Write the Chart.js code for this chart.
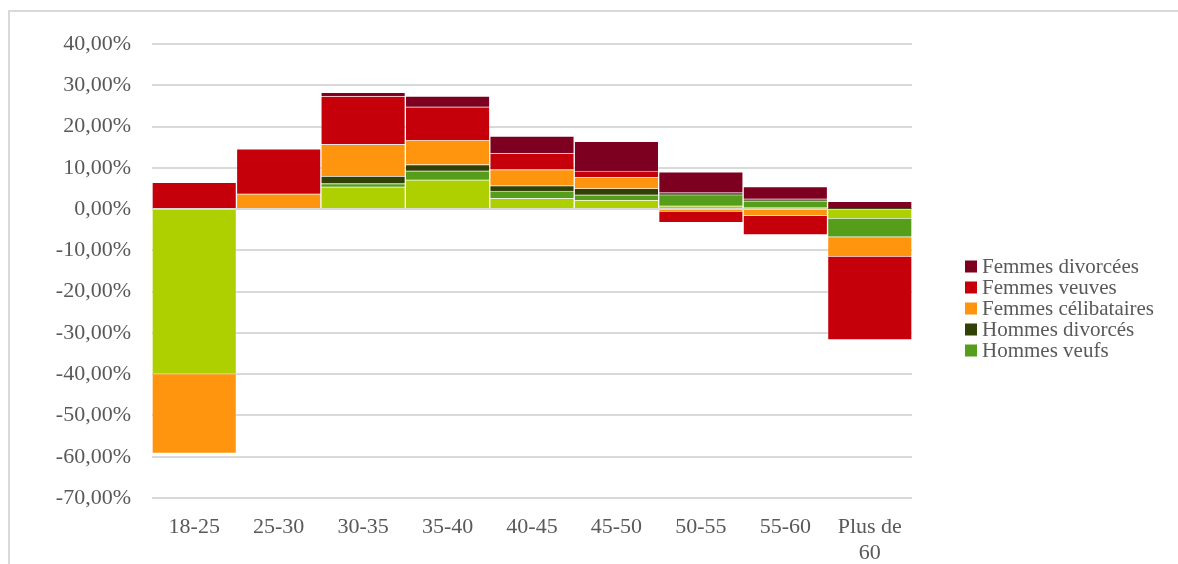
<!DOCTYPE html>
<html>
<head>
<meta charset="utf-8">
<script src="https://cdn.jsdelivr.net/npm/chart.js@4"></script>
<style>
  html, body { margin: 0; padding: 0; background: #fff; }
  #wrap { width: 1178px; height: 564px; }
</style>
</head>
<body>
<div id="wrap"><canvas id="chart" width="1178" height="564"></canvas></div>
<script>
// Categories (age groups)
const categories = ['18-25', '25-30', '30-35', '35-40', '40-45', '45-50', '50-55', '55-60', ['Plus de', '60']];

// Series values in %
const hommesCelibataires = [-40.0, 0, 5.4, 7.1, 2.6, 2.2, 0.8, 0.4, -2.3];
const hommesVeufs        = [0, 0, 0.8, 2.2, 1.8, 1.25, 2.7, 1.6, -4.5];
const hommesDivorces     = [0, 0, 1.8, 1.5, 1.3, 1.55, 0.5, 0.5, 0.1];
const femmesCelibataires = [-19.2, 3.7, 7.7, 5.9, 3.9, 2.7, -0.6, -1.6, -4.7];
const femmesVeuves       = [6.5, 10.9, 11.7, 8.1, 4.0, 1.55, -2.7, -4.65, -20.2];
const femmesDivorcees    = [0, 0, 0.9, 2.6, 4.1, 7.15, 5.0, 2.95, 1.8];

const yTicksMin = -70;
const yTicksMax = 40;

const textColor = '#595959';
const gridColor = '#D9D9D9';
const fontFamily = '"Liberation Serif", "DejaVu Serif", serif';

function makeSet(label, data, color, inLegend) {
    return {
        label: label,
        data: data,
        backgroundColor: color,
        borderColor: 'rgba(255,255,255,0.18)',
        borderWidth: 1,
        inLegend: inLegend
    };
}

const datasets = [
    makeSet('Hommes célibataires', hommesCelibataires, '#AECF00', false),
    makeSet('Hommes veufs', hommesVeufs, '#579D1C', true),
    makeSet('Hommes divorcés', hommesDivorces, '#314004', true),
    makeSet('Femmes célibataires', femmesCelibataires, '#FF950E', true),
    makeSet('Femmes veuves', femmesVeuves, '#C5000B', true),
    makeSet('Femmes divorcées', femmesDivorcees, '#7E0021', true)
];

// Outer frame + legend drawn by hand for exact placement
const framePlugin = {
    id: 'frame',
    beforeDraw(chart) {
        const ctx = chart.ctx;
        ctx.save();
        ctx.strokeStyle = gridColor;
        ctx.lineWidth = 2;
        ctx.strokeRect(9, 11, 1200, 600);
        ctx.restore();
    },
    afterDraw(chart) {
        const ctx = chart.ctx;
        const items = chart.data.datasets.filter(d => d.inLegend).reverse();
        ctx.save();
        ctx.font = '21px ' + fontFamily;
        ctx.textBaseline = 'middle';
        ctx.textAlign = 'left';
        items.forEach((d, i) => {
            const cy = 266.5 + i * 21;
            ctx.fillStyle = d.backgroundColor;
            ctx.fillRect(965, cy - 6, 12, 12);
            ctx.fillStyle = textColor;
            ctx.fillText(d.label, 982, cy + 1);
        });
        ctx.restore();
    }
};

new Chart(document.getElementById('chart').getContext('2d'), {
    type: 'bar',
    data: { labels: categories, datasets: datasets },
    plugins: [framePlugin],
    options: {
        responsive: false,
        animation: false,
        layout: { padding: { top: 44, right: 266, bottom: 0, left: 0 } },
        datasets: { bar: { barPercentage: 1, categoryPercentage: 1 } },
        plugins: {
            legend: { display: false },
            tooltip: { enabled: false }
        },
        scales: {
            x: {
                stacked: true,
                grid: { display: false, drawTicks: false },
                border: { display: false },
                ticks: {
                    color: textColor,
                    font: { family: fontFamily, size: 22 },
                    padding: 16,
                    maxRotation: 0,
                    autoSkip: false
                },
                afterFit(scale) { scale.height = 66; }
            },
            y: {
                stacked: true,
                min: yTicksMin,
                max: yTicksMax,
                grid: { color: gridColor, lineWidth: 2, drawTicks: false },
                border: { display: false },
                ticks: {
                    stepSize: 10,
                    color: textColor,
                    font: { family: fontFamily, size: 22 },
                    padding: 21,
                    callback: function(value) {
                        const v = Math.abs(value) < 1e-9 ? 0 : value;
                        return v.toFixed(2).replace('.', ',') + '%';
                    }
                },
                afterFit(scale) { scale.width = 152; }
            }
        }
    }
});
</script>
</body>
</html>
